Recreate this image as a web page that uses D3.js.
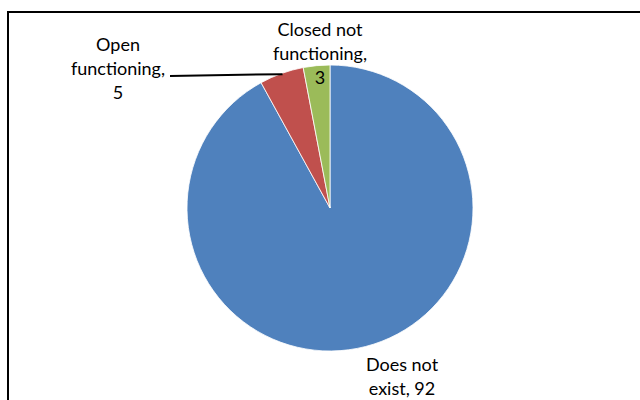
<!DOCTYPE html>
<html><head><meta charset="utf-8">
<script src="https://cdn.jsdelivr.net/npm/d3@7"></script>
<style>body{margin:0;background:#fff}svg{display:block}</style>
</head><body>
<script>
const categories = ["Does not exist", "Open functioning", "Closed not functioning"];
const values = [92, 5, 3];
const colors = ["#4F81BD", "#C0504D", "#9BBB59"];
const labelLines = [["Does not", "exist, 92"], ["Open", "functioning,", "5"], ["Closed not", "functioning,", "3"]];

const W = 640, H = 400, cx = 330, cy = 208, r = 143;
const svg = d3.select("body").append("svg").attr("width", W).attr("height", H);
svg.append("rect").attr("x", 8).attr("y", 12).attr("width", 700).attr("height", 500)
  .attr("fill", "none").attr("stroke", "#000").attr("stroke-width", 2);

const pie = d3.pie().sort(null).value(d => d)(values);
const arc = d3.arc().innerRadius(0).outerRadius(r);
const g = svg.append("g").attr("transform", `translate(${cx},${cy})`);
g.selectAll("path").data(pie).join("path")
  .attr("d", arc).attr("fill", (d, i) => colors[i])
  .attr("stroke", "#fff").attr("stroke-width", 0.8);

// label anchor positions (center x, first baseline y)
const labelPos = [[402, 371], [118, 51], [320, 36]];
const font = "Lato, 'Open Sans', sans-serif";
labelLines.forEach((lines, i) => {
  const t = svg.append("text").attr("text-anchor", "middle")
    .attr("font-family", font).attr("font-size", 18).attr("fill", "#000");
  lines.forEach((s, j) => t.append("tspan").attr("x", labelPos[i][0]).attr("y", labelPos[i][1] + j * 24).text(s));
});
// leader line for "Open functioning"
const mid = (pie[1].startAngle + pie[1].endAngle) / 2;
const ex = cx + r * Math.sin(mid) * 0.98, ey = cy - r * Math.cos(mid) * 0.98;
svg.append("line").attr("x1", 170).attr("y1", 76).attr("x2", ex).attr("y2", ey - 2)
  .attr("stroke", "#000").attr("stroke-width", 2);
</script>
</body></html>
